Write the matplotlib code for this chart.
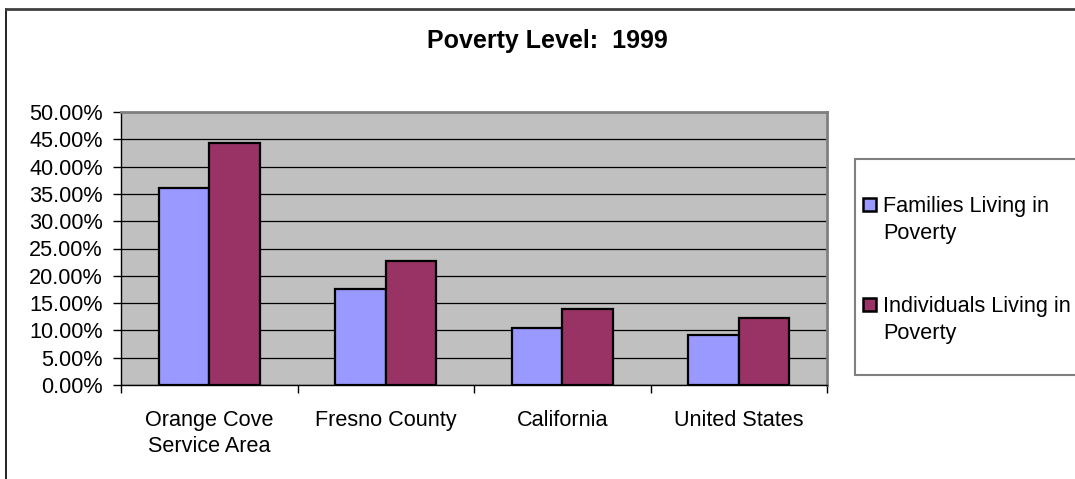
import numpy as np
import matplotlib
matplotlib.use('Agg')
import matplotlib.pyplot as plt
from matplotlib.lines import Line2D
from matplotlib.patches import Rectangle

# 데이터
categories = ['Orange Cove\nService Area', 'Fresno County', 'California', 'United States']
families = [36.0, 17.5, 10.5, 9.1]
individuals = [44.4, 22.8, 14.0, 12.3]
series_names = ['Families Living in\nPoverty', 'Individuals Living in\nPoverty']
series_colors = ['#9999FF', '#993366']
yticks = np.arange(0, 50.01, 5)

plt.rcParams['font.family'] = ['Liberation Sans', 'DejaVu Sans']
fs = 15.6
W, H = 1075, 479

fig = plt.figure(figsize=(W / 100, H / 100), dpi=100)
ax = fig.add_axes([121 / W, 1 - 385 / H, (827 - 121) / W, (385 - 112) / H])

x = np.arange(len(categories))
w = 0.286
ax.bar(x - w / 2, families, w, color=series_colors[0], edgecolor='black', linewidth=1.6, zorder=3)
ax.bar(x + w / 2, individuals, w, color=series_colors[1], edgecolor='black', linewidth=1.6, zorder=3)

ax.set_facecolor('#C0C0C0')
ax.set_xlim(-0.5, len(categories) - 0.5)
ax.set_ylim(0, 50)
ax.set_yticks(yticks)
ax.set_yticklabels(['{:.2f}%'.format(v) for v in yticks], fontsize=fs)
ax.yaxis.grid(True, color='black', linewidth=0.9, zorder=0)
ax.set_axisbelow(True)

# 카테고리 경계에 눈금, 가운데에 라벨
ax.set_xticks(np.arange(-0.5, len(categories), 1.0))
ax.set_xticklabels([])
ax.set_xticks(x, minor=True)
ax.set_xticklabels(categories, minor=True, fontsize=fs, linespacing=1.3)
ax.tick_params(axis='x', which='minor', length=0, pad=18)
ax.tick_params(axis='x', which='major', length=6, width=1, direction='out')
ax.tick_params(axis='y', length=6, width=1, direction='out', pad=7)

for s in ['left', 'bottom']:
    ax.spines[s].set_color('black')
    ax.spines[s].set_linewidth(1)
for s in ['top', 'right']:
    ax.spines[s].set_color('#808080')
    ax.spines[s].set_linewidth(2)

fig.text(547 / W, 1 - 41 / H, 'Poverty Level:  1999', ha='center', va='center',
         fontsize=18, fontweight='bold')

# 바깥 테두리
fig.add_artist(Line2D([6 / W, 6 / W], [0, 1 - 9 / H], color='black', linewidth=1.2,
                      transform=fig.transFigure))
fig.add_artist(Line2D([6 / W, 1], [1 - 9 / H, 1 - 9 / H], color='#404040', linewidth=2,
                      transform=fig.transFigure))

# 범례 (마커는 첫 줄에 맞춤)
fig.add_artist(Rectangle((855 / W, 1 - 375 / H), (W - 855) / W + 0.01, (375 - 159) / H,
                         transform=fig.transFigure, facecolor='white', edgecolor='#808080',
                         linewidth=1.5))
entry_y = [204, 304]
for name, col, yc in zip(series_names, series_colors, entry_y):
    fig.add_artist(Rectangle((863 / W, 1 - (yc + 6.5) / H), 13 / W, 13 / H,
                             transform=fig.transFigure, facecolor=col, edgecolor='black',
                             linewidth=1.8))
    fig.text(883 / W, 1 - (yc + 8 + 27) / H, name, ha='left', va='baseline', fontsize=fs,
             linespacing=1.4)

fig.savefig('out.png', dpi=100)
